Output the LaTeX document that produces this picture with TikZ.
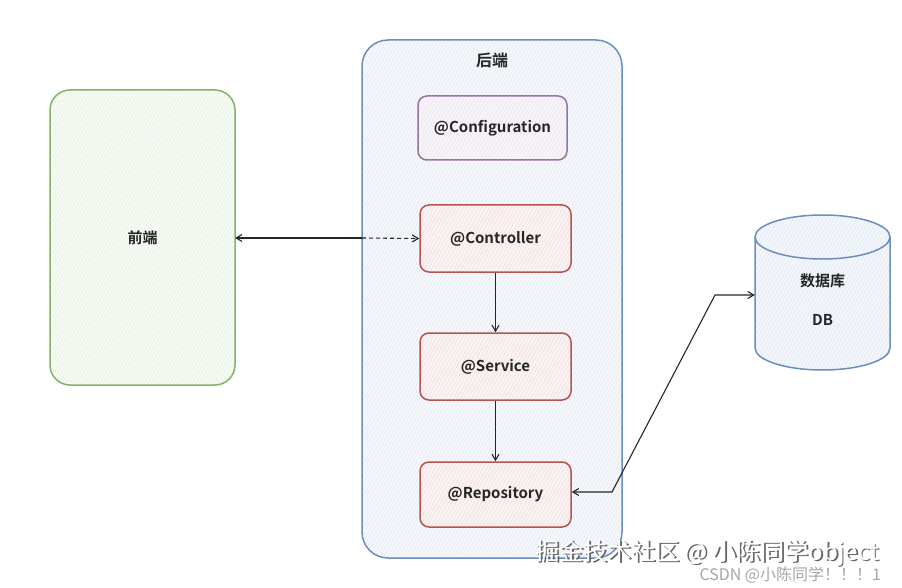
\documentclass[tikz,border=0pt]{standalone}
\usepackage{fontspec}
\setmainfont{Noto Sans CJK SC}
\newfontfamily\cjkb{Noto Sans CJK SC Bold}
\usetikzlibrary{patterns.meta,arrows.meta}
\definecolor{grnline}{HTML}{82B366}
\definecolor{blueline}{HTML}{6C8EBF}
\definecolor{bluefill}{HTML}{F3F6FB}
\definecolor{purline}{HTML}{9673A6}
\definecolor{redline}{HTML}{B85450}
\tikzset{
  hatchbox/.style n args={2}{draw=#1, line width=1.5pt, rounded corners=#2,
    preaction={fill=#1!7!white}, pattern={Lines[angle=60,distance=3.2pt,line width=0.35pt]}, pattern color=#1!25!white},
  lbl/.style={font=\cjkb\fontsize{15}{17}\selectfont, text=black!85},
  conn/.style={line width=1.1pt, draw=black!85},
  tip/.style={-{Straight Barb[length=6pt,width=7pt]}},
}
\begin{document}
\begin{tikzpicture}[x=1pt,y=-1pt]
\useasboundingbox (0,0) rectangle (902,588);
% frontend
\draw[hatchbox={grnline}{20pt}] (50,90) rectangle (235,385);
\node[lbl] (fe) at (142.5,238) {前端};
\coordinate (feE) at (235,238);
% backend
\draw[hatchbox={blueline}{26pt}] (362,40) rectangle (622,558);
\node[lbl,font=\cjkb\fontsize{16}{18}\selectfont] (be) at (492,60) {后端};
\coordinate (beW) at (362,238);
% inner boxes
\node[hatchbox={purline}{9pt}, minimum width=149pt, minimum height=64pt, lbl] (cfg) at (492.5,128) {@Configuration};
\node[hatchbox={redline}{9pt}, minimum width=151pt, minimum height=67pt, lbl] (ctl) at (495.5,238.5) {@Controller};
\node[hatchbox={redline}{9pt}, minimum width=151pt, minimum height=67pt, lbl] (svc) at (495.5,366.5) {@Service};
\node[hatchbox={redline}{9pt}, minimum width=151pt, minimum height=65pt, lbl] (rep) at (495.5,494.5) {@Repository};
% DB cylinder
\fill[bluefill] (755,237) -- (755,348) arc[start angle=180,end angle=0,x radius=67.5,y radius=22] -- (890,237) arc[start angle=0,end angle=-180,x radius=67.5,y radius=22] -- cycle;
\fill[pattern={Lines[angle=60,distance=3.2pt,line width=0.35pt]}, pattern color=blueline!25!white] (755,237) -- (755,348) arc[start angle=180,end angle=0,x radius=67.5,y radius=22] -- (890,237) arc[start angle=0,end angle=-180,x radius=67.5,y radius=22] -- cycle;
\draw[blueline, line width=1.5pt] (755,237) -- (755,348) arc[start angle=180,end angle=0,x radius=67.5,y radius=22] -- (890,237) arc[start angle=0,end angle=-180,x radius=67.5,y radius=22] -- cycle;
\draw[blueline, line width=1.5pt] (755,237) arc[start angle=180,end angle=0,x radius=67.5,y radius=22];
\node[minimum width=135pt, minimum height=116pt, inner sep=0pt] (db) at (822.5,295) {};
\node[lbl] (dbt) at (822.5,281) {数据库};
\node[lbl] (dbn) at (822.5,320) {DB};
% connectors
\draw[conn,tip] (beW) -- (feE);
\draw[conn,tip,dashed,dash pattern=on 4pt off 3pt] (beW) -- (ctl.west);
\draw[conn,tip] (ctl.south) -- (svc.north);
\draw[conn,tip] (svc.south) -- (rep.north);
\coordinate (k1) at (612,492);
\coordinate (k2) at (715,295);
\draw[conn,{Straight Barb[length=6pt,width=7pt]}-{Straight Barb[length=6pt,width=7pt]}] (rep.east |- k1) -- (k1) -- (k2) -- (db.west);
% watermark
\node[font=\fontsize{24}{27}\selectfont, text=black!60, anchor=west] (wm1s) at (533.5,554.5) {掘金技术社区 @ 小陈同学object};
\node[font=\fontsize{24}{27}\selectfont, text=white, anchor=west] (wm1) at (532,553) {掘金技术社区 @ 小陈同学object};
\node[font=\fontsize{16}{18}\selectfont, text=black!35, anchor=west] (wm2) at (696,575) {CSDN @小陈同学！！！1};
\end{tikzpicture}
\end{document}
